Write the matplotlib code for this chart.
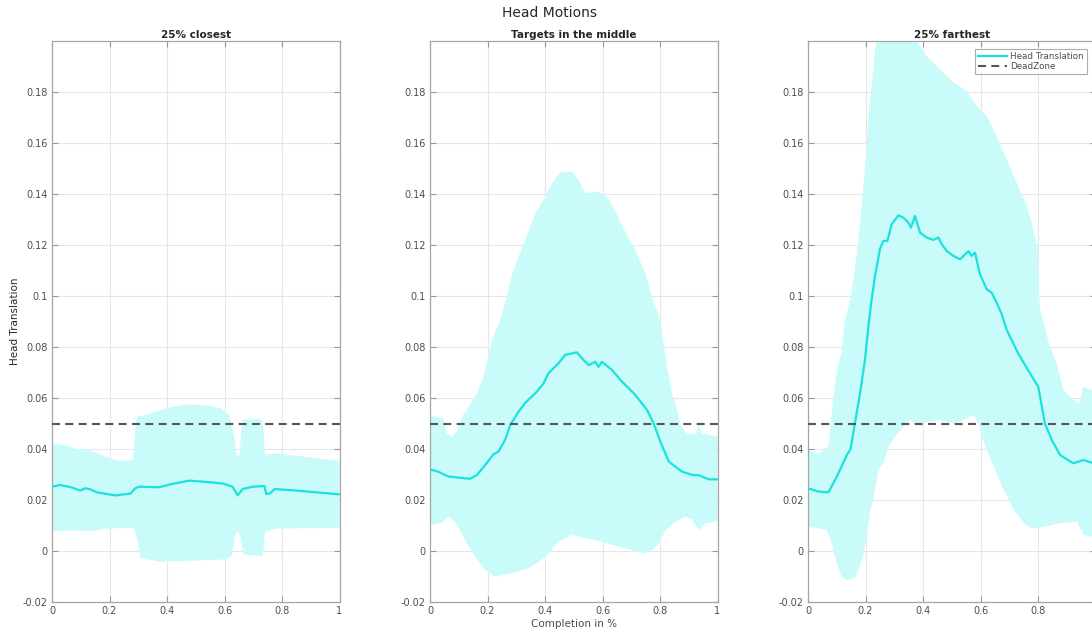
import numpy as np
import matplotlib
matplotlib.use('Agg')
import matplotlib.pyplot as plt
from matplotlib.ticker import FuncFormatter

# Head translation curves
# panel 1: 25% closest
x1_mean = [0, 0.028, 0.069, 0.098, 0.115, 0.133, 0.156, 0.22, 0.273, 0.29, 0.302, 0.372, 0.418, 0.477,
           0.523, 0.593, 0.628, 0.646, 0.663, 0.698, 0.739, 0.745, 0.759, 0.774, 0.85, 1.0]
y1_mean = [0.0252, 0.0259, 0.0249, 0.0237, 0.0246, 0.0242, 0.0230, 0.0218, 0.0225, 0.0246, 0.0252, 0.0250,
           0.0263, 0.0276, 0.0272, 0.0265, 0.0252, 0.0218, 0.0243, 0.0252, 0.0255, 0.0223, 0.0226, 0.0243,
           0.0237, 0.0222]
x1_up = [0, 0.042, 0.09, 0.126, 0.172, 0.22, 0.28, 0.295, 0.324, 0.394, 0.464, 0.534, 0.587, 0.616,
         0.634, 0.643, 0.652, 0.663, 0.698, 0.733, 0.741, 0.78, 1.0]
y1_up = [0.0422, 0.0416, 0.0399, 0.0400, 0.0377, 0.0355, 0.0355, 0.0527, 0.0533, 0.0559, 0.0575, 0.0572,
         0.0559, 0.0533, 0.0448, 0.0370, 0.0377, 0.0514, 0.0520, 0.0514, 0.0377, 0.0383, 0.0353]
x1_lo = [0, 0.069, 0.139, 0.186, 0.284, 0.295, 0.307, 0.372, 0.464, 0.604, 0.625, 0.637, 0.646, 0.657,
         0.665, 0.733, 0.741, 0.78, 1.0]
y1_lo = [0.0078, 0.0080, 0.0078, 0.0088, 0.0091, 0.0056, -0.0026, -0.0042, -0.0039, -0.0033, -0.0020,
         0.0065, 0.0078, 0.0052, -0.0013, -0.0020, 0.0075, 0.0088, 0.0091]

# panel 2: targets in the middle
x2_mean = [0, 0.029, 0.064, 0.099, 0.139, 0.163, 0.192, 0.221, 0.238, 0.261, 0.279, 0.308, 0.331, 0.366,
           0.395, 0.412, 0.447, 0.47, 0.511, 0.534, 0.552, 0.575, 0.586, 0.598, 0.633, 0.668, 0.714,
           0.755, 0.778, 0.801, 0.831, 0.877, 0.912, 0.935, 0.97, 1.0]
y2_mean = [0.0320, 0.0311, 0.0292, 0.0288, 0.0283, 0.0298, 0.0337, 0.0380, 0.0389, 0.0435, 0.0494, 0.0546,
           0.0581, 0.0618, 0.0657, 0.0697, 0.0736, 0.0769, 0.0779, 0.0749, 0.0729, 0.0742, 0.0722, 0.0742,
           0.0710, 0.0664, 0.0612, 0.0553, 0.0500, 0.0429, 0.0350, 0.0311, 0.0298, 0.0297, 0.0281, 0.0281]
x2_up = [0, 0.046, 0.058, 0.075, 0.093, 0.11, 0.134, 0.163, 0.185, 0.2, 0.215, 0.238, 0.261, 0.285, 0.308,
         0.331, 0.366, 0.401, 0.424, 0.453, 0.494, 0.517, 0.54, 0.586, 0.621, 0.651, 0.679, 0.714, 0.749,
         0.778, 0.795, 0.807, 0.825, 0.842, 0.86, 0.871, 0.894, 0.923, 0.935, 0.947, 1.0]
y2_up = [0.0533, 0.0520, 0.0461, 0.0448, 0.0467, 0.0525, 0.0564, 0.0617, 0.0680, 0.0750, 0.0827, 0.0886,
         0.0971, 0.1082, 0.1154, 0.1220, 0.1324, 0.1389, 0.1442, 0.1487, 0.1487, 0.1455, 0.1403, 0.1409,
         0.1383, 0.1318, 0.1252, 0.1180, 0.1089, 0.0971, 0.0930, 0.0854, 0.0723, 0.0618, 0.0553, 0.0494,
         0.0461, 0.0455, 0.0494, 0.0461, 0.0448]
x2_lo = [0, 0.041, 0.064, 0.087, 0.122, 0.157, 0.192, 0.226, 0.261, 0.308, 0.354, 0.401, 0.447, 0.494,
         0.54, 0.598, 0.656, 0.703, 0.744, 0.773, 0.796, 0.819, 0.854, 0.889, 0.912, 0.935, 0.958, 1.0]
y2_lo = [0.0102, 0.0109, 0.0135, 0.0115, 0.0043, -0.0022, -0.0075, -0.0101, -0.0092, -0.0081, -0.0061,
         -0.0022, 0.0037, 0.0063, 0.0050, 0.0037, 0.0017, 0.0004, -0.0009, 0.0004, 0.0030, 0.0082, 0.0115,
         0.0135, 0.0122, 0.0082, 0.0109, 0.0115]

# panel 3: 25% farthest
x3_mean = [0, 0.036, 0.071, 0.1, 0.135, 0.148, 0.163, 0.181, 0.198, 0.21, 0.221, 0.233, 0.25, 0.262,
           0.276, 0.291, 0.314, 0.332, 0.349, 0.358, 0.372, 0.39, 0.413, 0.436, 0.454, 0.465, 0.483,
           0.506, 0.529, 0.546, 0.558, 0.569, 0.581, 0.598, 0.622, 0.639, 0.656, 0.674, 0.691, 0.731,
           0.772, 0.801, 0.824, 0.848, 0.877, 0.923, 0.958, 0.988, 1.0]
y3_mean = [0.0246, 0.0233, 0.0230, 0.0291, 0.0376, 0.0399, 0.0500, 0.0618, 0.0749, 0.0880, 0.0984, 0.1078,
           0.1183, 0.1216, 0.1216, 0.1281, 0.1316, 0.1307, 0.1288, 0.1268, 0.1314, 0.1248, 0.1229, 0.1220,
           0.1229, 0.1203, 0.1176, 0.1157, 0.1144, 0.1163, 0.1176, 0.1157, 0.1170, 0.1085, 0.1026, 0.1013,
           0.0974, 0.0928, 0.0867, 0.0775, 0.0697, 0.0644, 0.0500, 0.0435, 0.0376, 0.0344, 0.0357, 0.0346,
           0.0344]
x3_up = [0, 0.036, 0.071, 0.087, 0.1, 0.117, 0.129, 0.146, 0.163, 0.181, 0.198, 0.21, 0.221, 0.239, 0.3,
         0.378, 0.413, 0.459, 0.506, 0.552, 0.587, 0.622, 0.656, 0.691, 0.726, 0.761, 0.784, 0.799, 0.806,
         0.824, 0.836, 0.865, 0.888, 0.923, 0.946, 0.955, 0.988, 1.0]
y3_up = [0.0396, 0.0383, 0.0409, 0.0592, 0.0697, 0.0788, 0.0906, 0.0980, 0.1105, 0.1288, 0.1497, 0.1693,
         0.1824, 0.2020, 0.2150, 0.2000, 0.1941, 0.1889, 0.1837, 0.1804, 0.1745, 0.1706, 0.1627, 0.1536,
         0.1444, 0.1353, 0.1262, 0.1183, 0.0950, 0.0880, 0.0820, 0.0736, 0.0631, 0.0592, 0.0579, 0.0644,
         0.0631, 0.0630]
x3_lo = [0, 0.036, 0.065, 0.082, 0.1, 0.117, 0.135, 0.163, 0.181, 0.193, 0.205, 0.216, 0.233, 0.245,
         0.262, 0.28, 0.303, 0.327, 0.356, 0.374, 0.414, 0.46, 0.506, 0.553, 0.576, 0.594, 0.617, 0.646,
         0.681, 0.716, 0.751, 0.774, 0.82, 0.878, 0.936, 0.959, 0.988, 1.0]
y3_lo = [0.0095, 0.0089, 0.0082, 0.0030, -0.0048, -0.0101, -0.0114, -0.0107, -0.0061, -0.0009, 0.0069,
         0.0148, 0.0239, 0.0318, 0.0344, 0.0409, 0.0448, 0.0481, 0.0514, 0.0497, 0.0507, 0.0514, 0.0500,
         0.0520, 0.0533, 0.0494, 0.0409, 0.0331, 0.0239, 0.0161, 0.0109, 0.0089, 0.0095, 0.0109, 0.0115,
         0.0063, 0.0056, 0.0056]

titles = ['25% closest', 'Targets in the middle', '25% farthest']
deadzone = 0.05
xticks = [0, 0.2, 0.4, 0.6, 0.8, 1]
yticks = [-0.02, 0, 0.02, 0.04, 0.06, 0.08, 0.1, 0.12, 0.14, 0.16, 0.18]

panels = [
    (x1_mean, y1_mean, x1_up, y1_up, x1_lo, y1_lo),
    (x2_mean, y2_mean, x2_up, y2_up, x2_lo, y2_lo),
    (x3_mean, y3_mean, x3_up, y3_up, x3_lo, y3_lo),
]

line_col = '#19e3dc'
fill_col = '#c9fbfb'
txt_col = '#262626'
tick_col = '#4d4d4d'

fig = plt.figure(figsize=(10.92, 6.32), dpi=100)
W, H = 1092.0, 632.0
lefts = [52, 430, 808]
fmt = FuncFormatter(lambda v, p: '%g' % round(v, 4))

for i, (xm, ym, xu, yu, xl, yl) in enumerate(panels):
    ax = fig.add_axes([lefts[i] / W, 1 - 602 / H, 287.5 / W, 561 / H])
    # shaded band: upper edge forward, lower edge backward
    px = np.concatenate([xu, xl[::-1]])
    py = np.concatenate([yu, yl[::-1]])
    ax.fill(px, py, color=fill_col, lw=0, zorder=1)
    ax.plot(xm, ym, color=line_col, lw=1.6, zorder=3, label='Head Translation')
    ax.plot([0, 1], [deadzone, deadzone], color='#555555', lw=1.5,
            linestyle=(0, (3.8, 2.6)), zorder=4, label='DeadZone')

    ax.set_xlim(0, 1)
    ax.set_ylim(-0.02, 0.2)
    ax.set_xticks(xticks)
    ax.set_yticks(yticks)
    ax.xaxis.set_major_formatter(fmt)
    ax.yaxis.set_major_formatter(fmt)
    ax.grid(True, color='#e6e6e6', lw=0.8, zorder=0)
    ax.set_axisbelow(True)
    ax.tick_params(direction='in', length=4, width=0.8, color='#999999',
                   labelsize=7, labelcolor=tick_col, top=True, right=True, pad=3)
    for s in ax.spines.values():
        s.set_color('#a6a6a6')
        s.set_linewidth(0.9)
    ax.set_title(titles[i], fontsize=7.5, fontweight='bold', color=txt_col, pad=2)

    if i == 0:
        ax.set_ylabel('Head Translation', fontsize=7.5, color=txt_col)
        ax.yaxis.set_label_coords(-0.112, 0.5)
    if i == 1:
        ax.set_xlabel('Completion in %', fontsize=7.5, color=tick_col, labelpad=2)
    if i == 2:
        leg = ax.legend(loc='upper right', bbox_to_anchor=(1087 / W, 1 - 48.5 / H),
                        bbox_transform=fig.transFigure, fontsize=6.3, frameon=True,
                        fancybox=False, borderaxespad=0, borderpad=0.35, handlelength=3.3,
                        labelspacing=0.2, handletextpad=0.4)
        leg.get_frame().set_edgecolor('#999999')
        leg.get_frame().set_linewidth(0.8)
        for t in leg.get_texts():
            t.set_color(tick_col)

fig.text(549 / W, 1 - 13 / H, 'Head Motions', ha='center', va='center', fontsize=10, color=txt_col)

fig.savefig('out.png', dpi=100)
